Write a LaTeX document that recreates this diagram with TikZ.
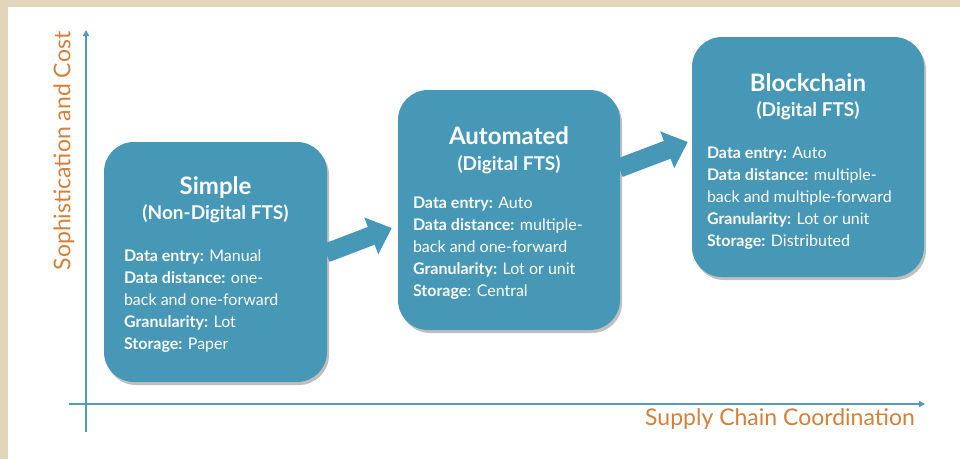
\documentclass[tikz,border=0pt]{standalone}
\usepackage{fontspec}
\setmainfont{Lato}
\usetikzlibrary{arrows.meta,shadows,calc}
\definecolor{boxblue}{RGB}{70,152,182}
\definecolor{axisblue}{RGB}{82,156,186}
\definecolor{labelorange}{RGB}{212,128,58}
\definecolor{beige}{RGB}{227,213,185}
\begin{document}
\begin{tikzpicture}[x=1pt,y=-1pt,
  stage/.style={fill=boxblue, rounded corners=30pt, inner sep=0pt,
    drop shadow={shadow xshift=2pt, shadow yshift=-3pt, opacity=0.5}},
  stagetitle/.style={text=white, font=\bfseries\fontsize{24}{26}\selectfont, inner sep=0pt},
  stagesub/.style={text=white, font=\bfseries\fontsize{19}{22}\selectfont, inner sep=0pt},
  stagebody/.style={text=white, font=\fontsize{16}{22.1}\selectfont, align=left, inner sep=0pt, anchor=north west},
  axis/.style={axisblue, line width=1.8pt, -{Triangle[width=6pt,length=6pt]}},
  axislabel/.style={text=labelorange, font=\fontsize{23}{26}\selectfont, inner sep=0pt},
  blockarrow/.style={boxblue, line width=19pt, -{Triangle[width=38pt,length=22pt]}}
]
% background and margins
\fill[beige] (0,0) rectangle (960,459);
\fill[white] (8,7) rectangle (960,459);
\useasboundingbox (0,0) rectangle (960,459);

% axes
\coordinate (yb) at (86,432);
\coordinate (yt) at (86,30);
\coordinate (xl) at (69,404);
\coordinate (xr) at (925,404);
\draw[axis] (yb) -- (yt);
\draw[axis] (xl) -- (xr);
\node[axislabel, rotate=90] (ylab) at (64,151) {Sophistication and Cost};
\node[axislabel, anchor=base] (xlab) at (780,425) {Supply Chain Coordination};

% stages
\node[stage, minimum width=223pt, minimum height=240pt] (simple) at (215.5,262) {};
\node[stage, minimum width=222pt, minimum height=240pt] (auto) at (509,210) {};
\node[stage, minimum width=232pt, minimum height=240pt] (block) at (808,157) {};

\node[stagetitle] (t1) at ($(simple.north)+(0,46)$) {Simple};
\node[stagesub] (s1) at ($(simple.north)+(0,72)$) {(Non-Digital FTS)};
\node[stagebody] (b1) at ($(simple.north west)+(20,107.5)$) {\textbf{Data entry:} Manual\\
\textbf{Data distance:} one-\\
back and one-forward\\
\textbf{Granularity:} Lot\\
\textbf{Storage:} Paper};

\node[stagetitle] (t2) at ($(auto.north)+(0,46)$) {Automated};
\node[stagesub] (s2) at ($(auto.north)+(0,75)$) {(Digital FTS)};
\node[stagebody] (b2) at ($(auto.north west)+(15,106.5)$) {\textbf{Data entry:} Auto\\
\textbf{Data distance:} multiple-\\
back and one-forward\\
\textbf{Granularity:} Lot or unit\\
\textbf{Storage}: Central};

\node[stagetitle] (t3) at ($(block.north)+(0,46)$) {Blockchain};
\node[stagesub] (s3) at ($(block.north)+(0,74)$) {(Digital FTS)};
\node[stagebody] (b3) at ($(block.north west)+(15,110)$) {\textbf{Data entry:} Auto\\
\textbf{Data distance:} multiple-\\
back and multiple-forward\\
\textbf{Granularity:} Lot or unit\\
\textbf{Storage:} Distributed};

% block arrows
\draw[blockarrow] ($(simple.east)+(-1,-9)$) -- ($(auto.west)+(-6,18)$);
\draw[blockarrow] ($(auto.east)+(-1,-42)$) -- ($(block.west)+(-4,-15)$);
\end{tikzpicture}
\end{document}
